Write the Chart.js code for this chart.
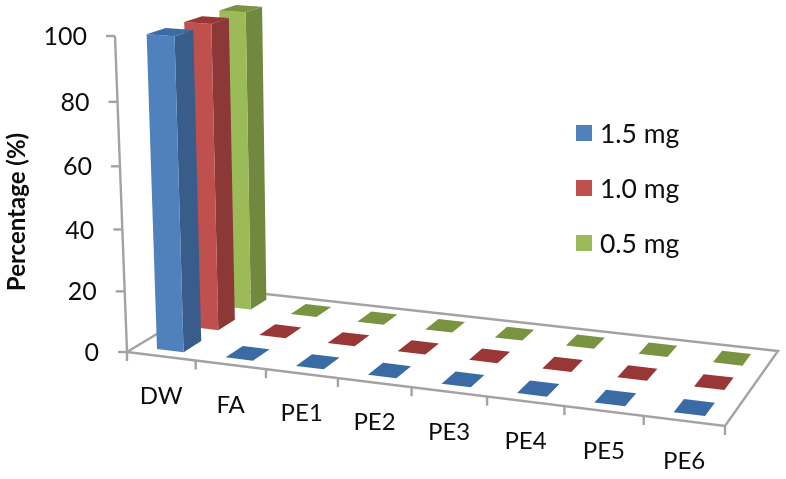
<!DOCTYPE html>
<html>
<head>
<meta charset="utf-8">
<style>
    html, body { margin: 0; padding: 0; background: #fff; }
    #wrap { width: 786px; height: 479px; }
</style>
<script src="https://cdn.jsdelivr.net/npm/chart.js@4/dist/chart.umd.min.js"></script>
</head>
<body>
<div id="wrap"><canvas id="myChart" width="786" height="479"></canvas></div>
<script>
// Chart data
var categories = ["DW", "FA", "PE1", "PE2", "PE3", "PE4", "PE5", "PE6"];
var seriesNames = ["1.5 mg", "1.0 mg", "0.5 mg"];
var values15 = [100, 0, 0, 0, 0, 0, 0, 0];
var values10 = [100, 0, 0, 0, 0, 0, 0, 0];
var values05 = [100, 0, 0, 0, 0, 0, 0, 0];
var yTicks = { min: 0, max: 100, step: 20 };
var yTitle = "Percentage (%)";

// Face colours per series: front, side, top
var frontColors = ["#4F81BD", "#C0504D", "#9BBB59"];
var sideColors = ["#385D8A", "#8C3836", "#71893F"];
var topColors = ["#3A6BA5", "#983735", "#7A9340"];
var axisColor = "#A3A3A3";
var textColor = "#0d0d0d";
var fontName = "Lato, 'Open Sans', sans-serif";

// Camera: where the unit floor square lands in the picture
var floorA = [127, 352], floorB = [725, 426], floorD = [778, 351], floorC = [230, 290];
var vanish = [355, 6356];   // vertical vanishing point
var heightK = -0.05;        // full axis height in homogeneous units
var barWidth = 0.39, barDepth = 0.5;

// Homography from unit square to the floor quad
function makeFloor() {
    var dx1 = floorB[0] - floorD[0], dx2 = floorC[0] - floorD[0];
    var dy1 = floorB[1] - floorD[1], dy2 = floorC[1] - floorD[1];
    var sx = floorA[0] - floorB[0] + floorD[0] - floorC[0];
    var sy = floorA[1] - floorB[1] + floorD[1] - floorC[1];
    var det = dx1 * dy2 - dx2 * dy1;
    var g = (sx * dy2 - dx2 * sy) / det;
    var h = (dx1 * sy - sx * dy1) / det;
    return {
        a: floorB[0] - floorA[0] + g * floorB[0], b: floorC[0] - floorA[0] + h * floorC[0], c: floorA[0],
        d: floorB[1] - floorA[1] + g * floorB[1], e: floorC[1] - floorA[1] + h * floorC[1], f: floorA[1],
        g: g, h: h
    };
}
var H = makeFloor();

// u along categories, v into depth, z 0..1 up the value axis
function project(u, v, z) {
    var w = 1 + H.g * u + H.h * v;
    var k = heightK * z;
    var bx = H.a * u + H.b * v + H.c;
    var by = H.d * u + H.e * v + H.f;
    return [(bx + k * vanish[0]) / (w + k), (by + k * vanish[1]) / (w + k)];
}

function fillFace(ctx, pts, color) {
    ctx.beginPath();
    ctx.moveTo(pts[0][0], pts[0][1]);
    for (var i = 1; i < pts.length; i++) ctx.lineTo(pts[i][0], pts[i][1]);
    ctx.closePath();
    ctx.fillStyle = color;
    ctx.fill();
}

function strokeLine(ctx, p, q) {
    ctx.beginPath();
    ctx.moveTo(p[0], p[1]);
    ctx.lineTo(q[0], q[1]);
    ctx.stroke();
}

// Draws the whole 3D scene from the chart's scales
var scene3d = {
    id: "scene3d",
    beforeDatasetsDraw: function (chart) {
        var ctx = chart.ctx, x = chart.scales.x, y = chart.scales.y, d = chart.scales.depth;
        var area = chart.chartArea;
        var uOf = function (px) { return (px - area.left) / area.width; };
        var vOf = function (py) { return (area.bottom - py) / area.height; };
        var zOf = function (py) { return (area.bottom - py) / area.height; };

        ctx.save();
        ctx.lineWidth = 2.4;
        ctx.strokeStyle = axisColor;
        ctx.lineJoin = "miter";

        // floor outline
        ctx.beginPath();
        [[0, 0], [1, 0], [1, 1], [0, 1]].forEach(function (c, i) {
            var p = project(c[0], c[1], 0);
            if (i == 0) ctx.moveTo(p[0], p[1]); else ctx.lineTo(p[0], p[1]);
        });
        ctx.closePath();
        ctx.stroke();

        // category ticks and labels along the front edge
        var n = categories.length;
        for (var t = 0; t <= n; t++) {
            var p0 = project(t / n, 0, 0);
            strokeLine(ctx, p0, [p0[0], p0[1] + 9]);
        }
        ctx.font = "24px " + fontName;
        ctx.fillStyle = textColor;
        ctx.textAlign = "center";
        ctx.textBaseline = "middle";
        x.getLabels().forEach(function (label, i) {
            var p = project(uOf(x.getPixelForValue(i)), 0, 0);
            ctx.fillText(label, p[0], p[1] + 40);
        });

        // value axis, ticks and labels
        strokeLine(ctx, project(0, 0, 0), project(0, 0, 1));
        ctx.font = "25px " + fontName;
        ctx.textAlign = "right";
        y.ticks.forEach(function (tick) {
            var p = project(0, 0, zOf(y.getPixelForValue(tick.value)));
            strokeLine(ctx, [p[0] - 9, p[1]], [p[0] + (tick.value == 0 ? 3 : 0), p[1]]);
            ctx.fillStyle = textColor;
            ctx.fillText(tick.label, p[0] - 28, p[1] + 1);
        });

        // axis title
        ctx.save();
        ctx.translate(17, 212);
        ctx.rotate(-Math.PI / 2);
        ctx.textAlign = "center";
        ctx.font = "bold 24px " + fontName;
        ctx.fillText(yTitle, 0, 0);
        ctx.restore();

        // bars, back row first
        var slotU = 1 / n, slotV = 1 / seriesNames.length;
        for (var s = chart.data.datasets.length - 1; s >= 0; s--) {
            var ds = chart.data.datasets[s];
            var vc = vOf(d.getPixelForValue(s));
            for (var i = n - 1; i >= 0; i--) {
                var uc = uOf(x.getPixelForValue(i));
                var u0 = uc - slotU * barWidth / 2, u1 = uc + slotU * barWidth / 2;
                var v0 = vc - slotV * barDepth / 2, v1 = vc + slotV * barDepth / 2;
                var z = zOf(y.getPixelForValue(ds.data[i]));
                if (z > 0) {
                    fillFace(ctx, [project(u1, v0, 0), project(u1, v1, 0), project(u1, v1, z), project(u1, v0, z)], sideColors[s]);
                    fillFace(ctx, [project(u0, v0, 0), project(u1, v0, 0), project(u1, v0, z), project(u0, v0, z)], frontColors[s]);
                }
                fillFace(ctx, [project(u0, v0, z), project(u1, v0, z), project(u1, v1, z), project(u0, v1, z)], topColors[s]);
            }
        }

        // legend
        ctx.font = "26.5px " + fontName;
        ctx.textAlign = "left";
        chart.data.datasets.forEach(function (ds, s) {
            var ly = 133 + s * 55;
            ctx.fillStyle = ds.backgroundColor;
            ctx.fillRect(576, ly - 8, 16, 16);
            ctx.fillStyle = textColor;
            ctx.fillText(ds.label, 600, ly + 1);
        });
        ctx.restore();
        return false; // native flat bars are not wanted
    }
};

var ctx = document.getElementById("myChart").getContext("2d");
var myChart = new Chart(ctx, {
    type: "bar",
    data: {
        labels: categories,
        datasets: [
            { label: seriesNames[0], data: values15, backgroundColor: frontColors[0] },
            { label: seriesNames[1], data: values10, backgroundColor: frontColors[1] },
            { label: seriesNames[2], data: values05, backgroundColor: frontColors[2] }
        ]
    },
    options: {
        responsive: false,
        animation: false,
        layout: { padding: { left: floorA[0], top: 36, right: 786 - floorB[0], bottom: 479 - floorA[1] } },
        plugins: { legend: { display: false }, tooltip: { enabled: false } },
        scales: {
            x: { type: "category", offset: true, display: false },
            y: { min: yTicks.min, max: yTicks.max, ticks: { stepSize: yTicks.step }, display: false },
            depth: { type: "category", axis: "y", labels: seriesNames, reverse: true, offset: true, display: false }
        }
    },
    plugins: [scene3d]
});
</script>
</body>
</html>
